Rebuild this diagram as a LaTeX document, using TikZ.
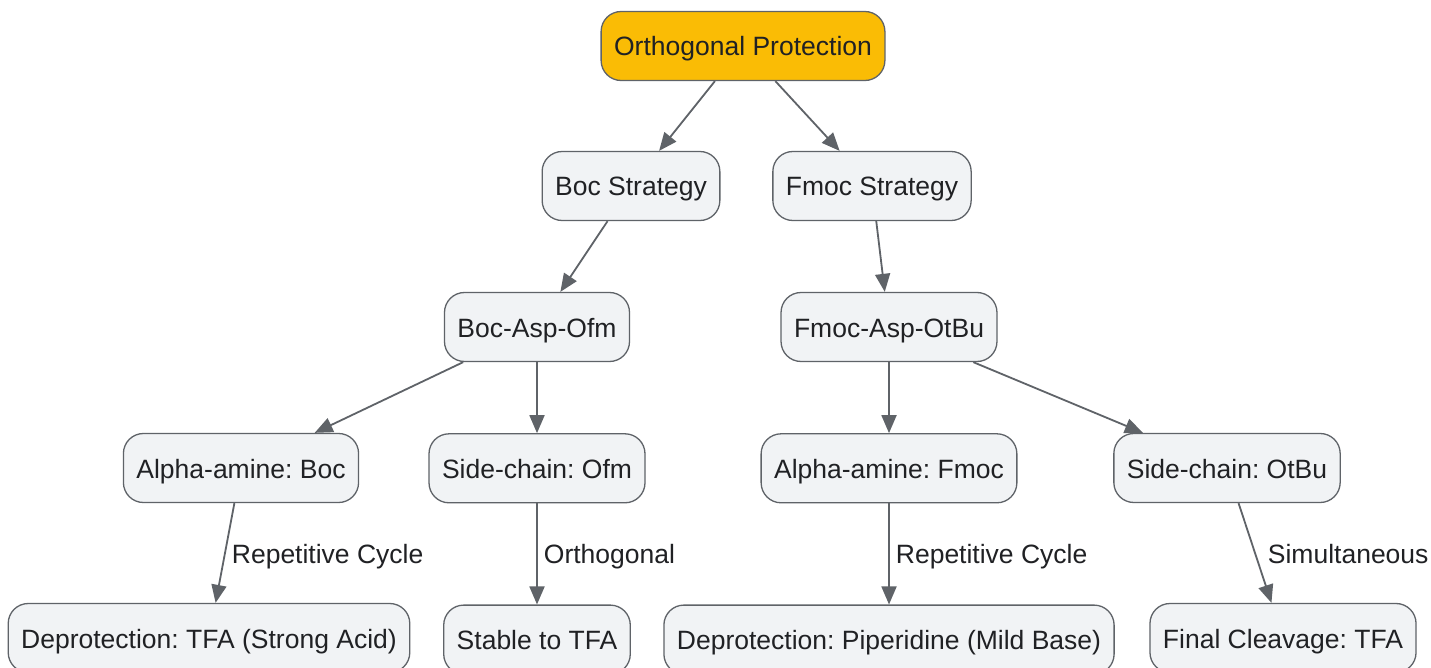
\documentclass[tikz,border=0pt]{standalone}
\usepackage{fontspec}
\setmainfont{Liberation Sans}
\usepackage{xcolor}
\usepackage{tikz}
\usetikzlibrary{arrows.meta,positioning}
\frenchspacing
\definecolor{edgegray}{HTML}{5F6368}
\definecolor{boxfill}{HTML}{F1F3F5}
\definecolor{rootfill}{HTML}{FABC05}
\definecolor{textgray}{HTML}{202124}
\tikzset{box/.style={rectangle,rounded corners=20pt,draw=edgegray,fill=boxfill,line width=1.3pt,minimum height=69pt,inner xsep=13pt,text height=25pt,text depth=5pt,text=textgray,font=\fontsize{26.5}{30}\selectfont},
  root box/.style={box,fill=rootfill},
  lbl/.style={anchor=west,inner sep=6pt,text height=25pt,text depth=5pt,text=textgray,font=\fontsize{26.5}{30}\selectfont},}
\tikzstyle{arrow} = [line width=1.8pt,draw=edgegray,-{Triangle[length=18pt,width=15pt]}]

\begin{document}
\begin{tikzpicture}[x=1pt,y=-1pt]
    \useasboundingbox[fill=white] (0,0) rectangle (1431,668);
    \node[root box] (root) at (743,46) {Orthogonal Protection};
    \node[box] (bocstr) at (631,186) {Boc Strategy};
    \node[box] (fmocstr) at (872,186) {Fmoc Strategy};
    \node[box] (bocasp) at (537,327) {Boc-Asp-Ofm};
    \node[box] (fmocasp) at (889,327) {Fmoc-Asp-OtBu};
    \node[box] (bocamine) at (241,468) {Alpha-amine: Boc};
    \node[box] (ofm) [below=71pt of bocasp] {Side-chain: Ofm};
    \node[box] (fmocamine) [below=71pt of fmocasp] {Alpha-amine: Fmoc};
    \node[box] (otbu) at (1227,468) {Side-chain: OtBu};
    \node[box] (bocdep) at (209,638) {Deprotection: TFA (Strong Acid)};
    \node[box] (stable) [below=101pt of ofm] {Stable to TFA};
    \node[box] (fmocdep) [below=101pt of fmocamine] {Deprotection: Piperidine (Mild Base)};
    \node[box] (final) at (1283,638) {Final Cleavage: TFA};

    \draw [arrow] (root) -- (bocstr);
    \draw [arrow] (root) -- (fmocstr);
    \draw [arrow] (bocstr) -- (bocasp);
    \draw [arrow] (fmocstr) -- (fmocasp);
    \draw [arrow] (bocasp) -- (bocamine);
    \draw [arrow] (bocasp) -- (ofm);
    \draw [arrow] (fmocasp) -- (fmocamine);
    \draw [arrow] (fmocasp) -- (otbu);
    \draw [arrow] (bocamine) -- node[lbl,pos=0.5] {Repetitive Cycle} (bocdep);
    \draw [arrow] (ofm) -- node[lbl,pos=0.5] {Orthogonal} (stable);
    \draw [arrow] (fmocamine) -- node[lbl,pos=0.5] {Repetitive Cycle} (fmocdep);
    \draw [arrow] (otbu) -- node[lbl,pos=0.5,xshift=6pt] {Simultaneous} (final);
\end{tikzpicture}
\end{document}
